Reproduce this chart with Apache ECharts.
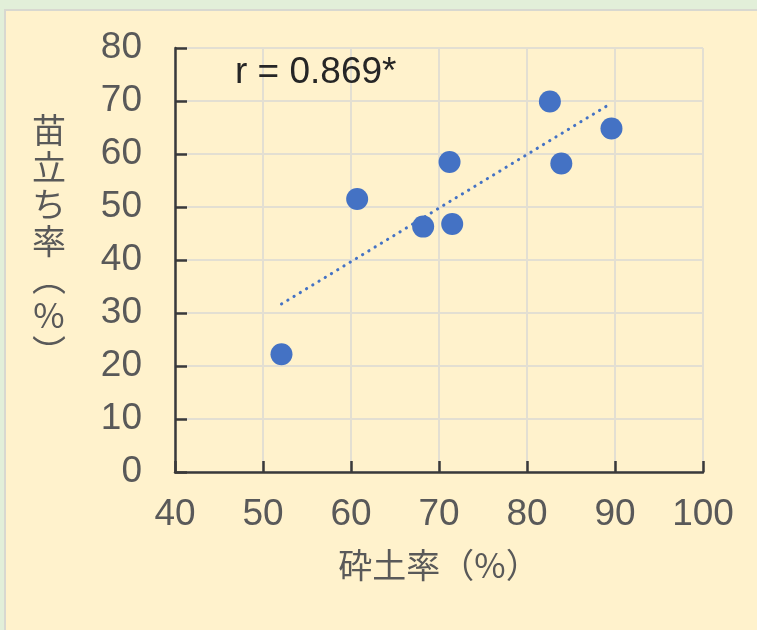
<!DOCTYPE html>
<html>
<head>
<meta charset="utf-8">
<script src="https://cdn.jsdelivr.net/npm/echarts@6/dist/echarts.min.js"></script>
<style>
html,body{margin:0;padding:0;background:#E2EFD9;}
#c{width:757px;height:630px;}
</style>
</head>
<body>
<div id="c"></div>
<script>
// Data
const soilRate = [52.1, 60.7, 68.2, 71.2, 71.5, 82.6, 83.9, 89.6];      // 砕土率 (%)
const standRate = [22.2, 51.5, 46.3, 58.5, 46.8, 69.9, 58.2, 64.8];     // 苗立ち率 (%)
const trendX = [52.1, 89.1];
const trendY = [31.7, 69.1];
const xTicks = [40, 50, 60, 70, 80, 90, 100];
const yTicks = [0, 10, 20, 30, 40, 50, 60, 70, 80];
const xTitle = '砕土率（%）';
const yTitleChars = ['苗', '立', 'ち', '率', '︵', '%', '︶'];
const rText = 'r = 0.869*';

const points = soilRate.map((x, i) => [x, standRate[i]]);
const trend = trendX.map((x, i) => [x, trendY[i]]);

const FONT = '"Liberation Sans", "Noto Sans CJK JP", sans-serif';
const CJK = '"Noto Sans CJK JP", sans-serif';
const chart = echarts.init(document.getElementById('c'), null, {renderer: 'canvas'});
chart.setOption({
  backgroundColor: '#E2EFD9',
  animation: false,
  graphic: [
    {type: 'rect', z: -10, silent: true,
     shape: {x: 5, y: 10, width: 760, height: 630},
     style: {fill: '#FFF2CC', stroke: '#D8D8D0', lineWidth: 2}},
    {type: 'text', left: 235, top: 54, z: 10,
     style: {text: rText, font: '37px ' + FONT, fill: '#262626'}},
    {type: 'text', x: 49, y: 241, z: 10,
     style: {text: yTitleChars.join('\n'), fontSize: 34, fontFamily: CJK, fill: '#595959',
             lineHeight: 37, align: 'center', verticalAlign: 'middle'}}
  ],
  grid: {left: 175, right: 54, top: 48, bottom: 158, containLabel: false},
  xAxis: {
    type: 'value', min: xTicks[0], max: xTicks[xTicks.length - 1], interval: 10,
    name: xTitle, nameLocation: 'middle', nameGap: 76,
    nameTextStyle: {fontSize: 34, color: '#595959', fontFamily: CJK},
    axisLine: {show: true, lineStyle: {color: '#3A3A3A', width: 2.5}},
    axisTick: {show: true, inside: true, length: 11, lineStyle: {color: '#3A3A3A', width: 2.5}},
    axisLabel: {fontSize: 37, color: '#595959', margin: 24, fontFamily: FONT},
    splitLine: {show: true, lineStyle: {color: '#E3DFD2', width: 2}}
  },
  yAxis: {
    type: 'value', min: yTicks[0], max: yTicks[yTicks.length - 1], interval: 10,
    axisLine: {show: true, lineStyle: {color: '#3A3A3A', width: 2.5}},
    axisTick: {show: true, inside: true, length: 12, lineStyle: {color: '#3A3A3A', width: 2.5}},
    axisLabel: {fontSize: 37, color: '#595959', margin: 33, fontFamily: FONT},
    splitLine: {show: true, lineStyle: {color: '#E3DFD2', width: 2}}
  },
  series: [
    {type: 'line', data: trend, showSymbol: false, symbol: 'none', z: 2,
     lineStyle: {color: '#4472C4', width: 3, type: [0.3, 7], cap: 'round'}},
    {type: 'scatter', data: points, symbol: 'circle', symbolSize: 22, z: 3,
     itemStyle: {color: '#4472C4', opacity: 1}}
  ]
});
</script>
</body>
</html>
